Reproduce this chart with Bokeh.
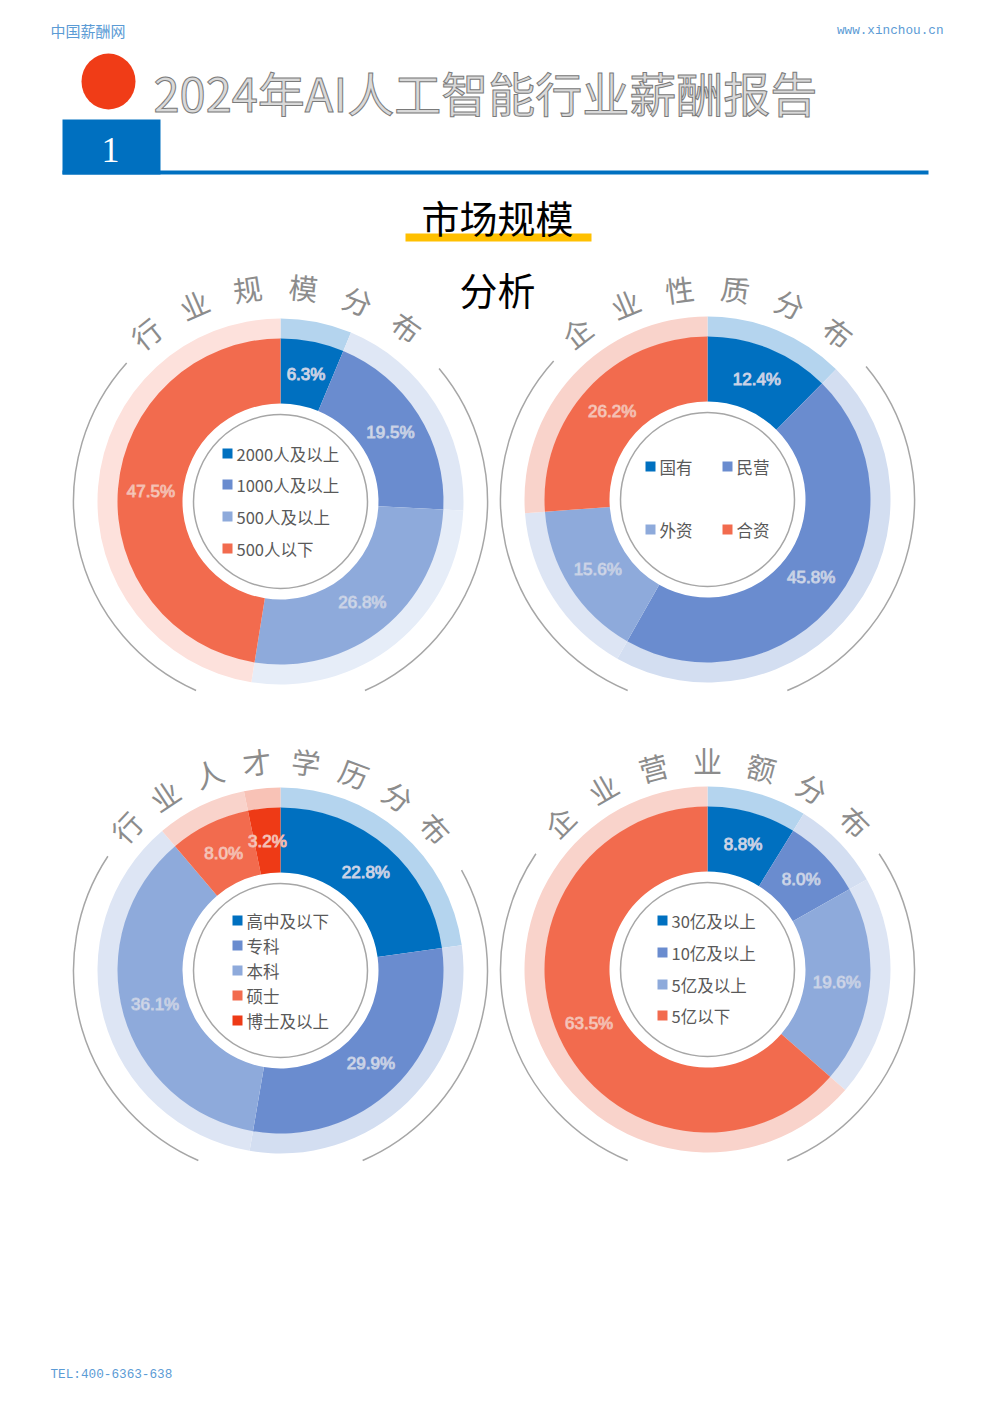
import numpy as np
from bokeh.plotting import figure
from bokeh.models import Range1d, ColumnDataSource, Text
from bokeh.core.properties import value
from bokeh.embed import file_html
from bokeh.resources import INLINE

W, H = 976, 1387

# ---------------- data ----------------
scale_labels = ["2000人及以上", "1000人及以上", "500人及以上", "500人以下"]
scale_values = [6.3, 19.5, 26.8, 47.5]
nature_labels = ["国有", "民营", "外资", "合资"]
nature_values = [12.4, 45.8, 15.6, 26.2]
edu_labels = ["高中及以下", "专科", "本科", "硕士", "博士及以上"]
edu_values = [22.8, 29.9, 36.1, 8.0, 3.2]
rev_labels = ["30亿及以上", "10亿及以上", "5亿及以上", "5亿以下"]
rev_values = [8.8, 8.0, 19.6, 63.5]

title_scale = "行业规模分布"
title_nature = "企业性质分布"
title_edu = "行业人才学历分布"
title_rev = "企业营业额分布"

main_title = "2024年AI人工智能行业薪酬报告"
section_title = "市场规模"
section_title2 = "分析"
site_name = "中国薪酬网"
site_url = "www.xinchou.cn"
tel_text = "TEL:400-6363-638"
section_no = "1"

# ---------------- styles ----------------
INNER4 = ["#0070c0", "#6a8ccf", "#8eaadb", "#f26b4e"]
INNER5 = ["#0070c0", "#6a8ccf", "#8eaadb", "#f26b4e", "#ee3a16"]
OUTER1 = ["#b4d4ee", "#dfe7f5", "#e6edf8", "#fde1dc"]
OUTER4 = ["#b4d4ee", "#d3def1", "#dde5f4", "#f9d3cb"]
OUTER5 = ["#b4d4ee", "#d3def1", "#dde5f4", "#f9d3cb", "#f8c2b6"]
CJK = "Noto Sans CJK SC"
HAS_OUTLINE = "text_outline_color" in Text.properties()


def X(px):
    return px


def Y(py):
    return H - py


p = figure(width=W, height=H, output_backend="svg", toolbar_location=None,
           x_range=Range1d(0, W), y_range=Range1d(0, H), min_border=0)
p.axis.visible = False
p.grid.visible = False
p.outline_line_color = None
p.background_fill_color = "white"
p.border_fill_color = "white"


def txt(x, y, s, size, color, font=CJK, align="left", baseline="middle",
        angle=0.0, style="normal", outline=None):
    kw = dict(x=[x], y=[y], text=[s], text_font=value(font),
              text_font_size=value(f"{size}px"), text_color=color,
              text_align=align, text_baseline=baseline, angle=angle,
              text_font_style=style)
    if outline and HAS_OUTLINE:
        kw["text_outline_color"] = outline
    return p.text(**kw)


# ---------------- header ----------------
txt(X(50), Y(30), site_name, 15, "#5b9bd5")
txt(X(943), Y(30), site_url, 12.7, "#5b9bd5", font="Liberation Mono", align="right")
txt(X(50), Y(1374), tel_text, 12.7, "#5b9bd5", font="Liberation Mono")

p.ellipse(x=[X(108)], y=[Y(81)], width=54, height=56, fill_color="#f03c17", line_color=None)
if HAS_OUTLINE:
    txt(X(153), Y(91), main_title, 47, "#d9d9d9", outline="#7a7a7a")
else:
    txt(X(153), Y(91), main_title, 47, "#a6a6a6")

p.quad(left=[X(62)], right=[X(160)], top=[Y(119)], bottom=[Y(174)],
       fill_color="#0070c0", line_color=None)
p.quad(left=[X(62)], right=[X(928)], top=[Y(170)], bottom=[Y(174)],
       fill_color="#0070c0", line_color=None)
txt(X(110), Y(149), section_no, 36, "white", font="Liberation Serif", align="center")

# section title
p.quad(left=[X(405)], right=[X(591)], top=[Y(233)], bottom=[Y(241)],
       fill_color="#ffc000", line_color=None)
txt(X(497), Y(216), section_title, 38, "black", align="center")
txt(X(497), Y(288), section_title2, 38, "black", align="center")


# ---------------- donuts ----------------
def donut(cx, cy, values, inner_cols, outer_cols, title, t_start, t_step, t_r,
          arc_left, arc_right, clip_y, label_cols, label_lines):
    vals = np.array(values, dtype=float)
    frac = vals / vals.sum()
    cum = np.concatenate([[0.0], np.cumsum(frac)])
    starts = np.pi / 2 - 2 * np.pi * cum[:-1]
    ends = np.pi / 2 - 2 * np.pi * cum[1:]
    src = ColumnDataSource(dict(s=starts, e=ends, ic=inner_cols, oc=outer_cols))
    x0, y0 = X(cx), Y(cy)
    p.annular_wedge(x=x0, y=y0, inner_radius=162.5, outer_radius=183,
                    start_angle="s", end_angle="e", direction="clock",
                    fill_color="oc", line_color=None, source=src)
    p.annular_wedge(x=x0, y=y0, inner_radius=98, outer_radius=163,
                    start_angle="s", end_angle="e", direction="clock",
                    fill_color="ic", line_color=None, source=src)
    # inner thin circle
    p.circle(x=[x0], y=[y0], radius=87, fill_color=None, line_color="#a6a6a6",
             line_width=1.5)
    # outer gray arcs (clipped at bottom)
    r_arc = 207
    a_bot = np.arcsin((clip_y - cy) / r_arc)
    p.arc(x=[x0, x0], y=[y0, y0], radius=r_arc,
          start_angle=[np.radians(arc_left), -a_bot],
          end_angle=[np.pi + a_bot, np.radians(arc_right)],
          direction="anticlock", line_color="#a6a6a6", line_width=1.5)
    # value labels
    mids = (starts + ends) / 2
    lab = [f"{v:.1f}%" for v in values]
    lsrc = ColumnDataSource(dict(x=x0 + 130 * np.cos(mids), y=y0 + 130 * np.sin(mids),
                                 t=lab, c=label_cols, o=label_lines))
    kw = dict(x="x", y="y", text="t", text_color="c", text_align="center",
              text_baseline="middle", text_font=value("Liberation Sans"),
              text_font_size=value("17px"), source=lsrc)
    if HAS_OUTLINE:
        kw["text_outline_color"] = "o"
    p.text(**kw)
    # curved title
    chars = list(title)
    th = np.radians(t_start - t_step * np.arange(len(chars)))
    tsrc = ColumnDataSource(dict(x=x0 + t_r * np.cos(th), y=y0 + t_r * np.sin(th),
                                 t=chars, a=th - np.pi / 2))
    p.text(x="x", y="y", text="t", angle="a", text_align="center",
           text_baseline="middle", text_color="#8c8c8c", text_font=value(CJK),
           text_font_size=value("29px"), source=tsrc)


LB, OB = "#eef2fa", "#c3cde3"
LR, OR = "#fdeae5", "#f3b9ab"
donut(280, 501, scale_values, INNER4, OUTER1, title_scale, 128.6, 14.9, 216,
      138, 40, 690, [LB, LB, LB, LR], [OB, OB, OB, OR])
donut(707, 499, nature_values, INNER4, OUTER4, title_nature, 128.0, 15.2, 213,
      138, 40, 690, [LB, LB, LB, LR], [OB, OB, OB, OR])
donut(280, 970, edu_values, INNER5, OUTER5, title_edu, 137.0, 13.5, 211,
      146.5, 29, 1160, [LB, LB, LB, LR, LR], [OB, OB, OB, OR, OR])
donut(707, 969, rev_values, INNER4, OUTER4, title_rev, 135.0, 15.0, 210,
      146, 34, 1160, [LB, LB, LB, LR], [OB, OB, OB, OR])


# ---------------- legends ----------------
def legend_list(labels, cols, sq_x, rows_y):
    for lab, c, ry in zip(labels, cols, rows_y):
        p.rect(x=[X(sq_x)], y=[Y(ry)], width=10, height=10, fill_color=c, line_color=None)
        txt(X(sq_x + 9), Y(ry), lab, 16.5, "#595959")


legend_list(scale_labels, INNER4, 227, [453, 484, 516, 548])
legend_list(edu_labels, INNER5, 237, [920, 945, 970, 995, 1020])
legend_list(rev_labels, INNER4, 662, [920, 952, 984, 1015])
grid_pos = [(650, 466), (727, 466), (650, 529), (727, 529)]
for lab, c, (gx, gy) in zip(nature_labels, INNER4, grid_pos):
    p.rect(x=[X(gx)], y=[Y(gy)], width=10, height=10, fill_color=c, line_color=None)
    txt(X(gx + 9), Y(gy), lab, 16.5, "#595959")

open("out.html", "w").write(file_html(p, INLINE))
